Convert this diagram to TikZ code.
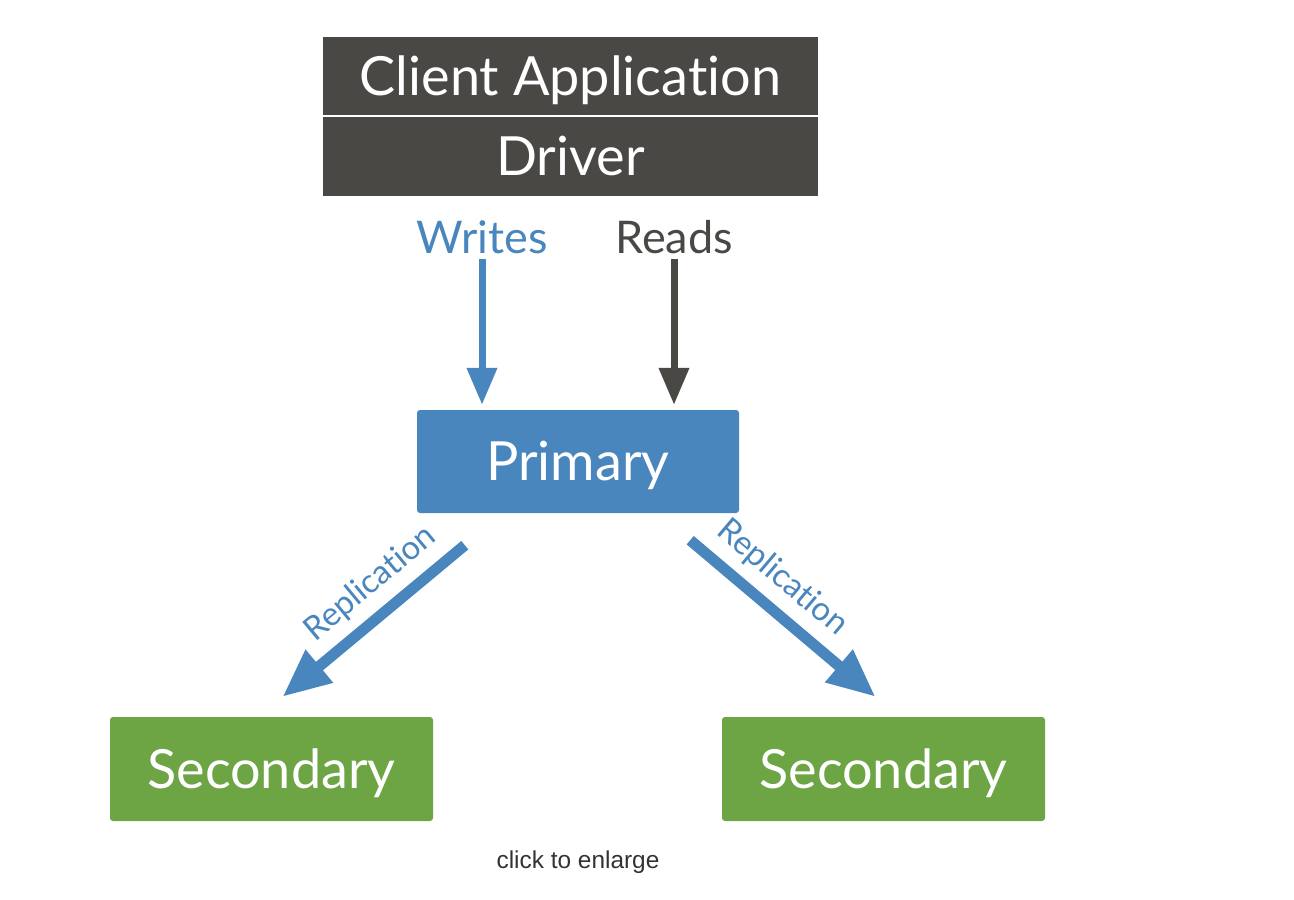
\documentclass[tikz,border=0pt]{standalone}
\usepackage{fontspec}
\setmainfont{Lato}[Ligatures=NoCommon]
\newfontfamily\arialfont{Liberation Sans}
\usetikzlibrary{arrows.meta,calc}
\definecolor{darkbox}{HTML}{4A4845}
\definecolor{mblue}{HTML}{4A86BE}
\definecolor{mgreen}{HTML}{6DA545}
\definecolor{caption}{HTML}{333333}
\tikzset{
  box/.style={inner sep=0pt, text=white, rounded corners=3pt, font=\fontsize{54}{62}\selectfont,
    text height=38.5pt, text depth=0pt},
  toplabel/.style={inner sep=0pt, font=\fontsize{45}{52}\selectfont},
  vert/.style={line width=7pt, -{Triangle[length=37pt,width=29pt]}},
  rep/.style={line width=11pt, mblue, -{Triangle[length=48pt,width=40pt]}},
  replabel/.style={inner sep=0pt, text=mblue, font=\fontsize{33}{38}\selectfont, sloped, above=10pt},
}
\begin{document}
\begin{tikzpicture}[x=1pt,y=-1pt]
\useasboundingbox[fill=white] (0,0) rectangle (1294,900);
% client / driver
\node[box, fill=darkbox, minimum width=495pt, minimum height=78pt, rounded corners=0pt] (client) at (570.5,76) {Client Application};
\node[box, fill=darkbox, minimum width=495pt, minimum height=79pt, rounded corners=0pt] (driver) at (570.5,156.5) {Driver};
% labels
\node[toplabel, text=mblue, anchor=base] (writes) at (482,253) {Writes};
\node[toplabel, text=darkbox, anchor=base] (reads) at (674,253) {Reads};
% primary
\node[box, fill=mblue, minimum width=322pt, minimum height=103pt] (primary) at (578,461.5) {Primary};
% secondaries
\node[box, fill=mgreen, minimum width=323pt, minimum height=104pt] (secl) at (271.5,769) {Secondary};
\node[box, fill=mgreen, minimum width=323pt, minimum height=104pt] (secr) at (883.5,769) {Secondary};
% vertical arrows
\draw[vert, mblue, shorten <=5pt, shorten >=5pt] (writes.south) -- (writes.south |- primary.north);
\draw[vert, darkbox, shorten <=5pt, shorten >=5pt] (reads.south) -- (reads.south |- primary.north);
% replication arrows
\coordinate (ls) at ($(primary.south west)+(48,32)$);
\coordinate (le) at ($(secl.north)+(11,-20)$);
\coordinate (rs) at ($(primary.south east)+(-49,27)$);
\coordinate (re) at ($(secr.north)+(-8,-20)$);
\draw[rep] (ls) -- (le) node[replabel, pos=0.41] (repl) {Replication};
\draw[rep] (rs) -- (re) node[replabel, pos=0.39] (repr) {Replication};
% caption
\node[inner sep=0pt, text=caption, font=\arialfont\fontsize{24.4}{28}\selectfont] (cap) at (578,862) {click to enlarge};
\end{tikzpicture}
\end{document}
